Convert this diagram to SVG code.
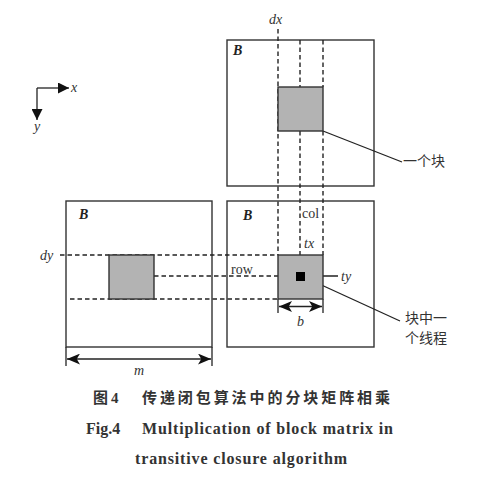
<svg xmlns="http://www.w3.org/2000/svg" width="484" height="481" viewBox="0 0 484 481">
<defs>
<style>
.box{fill:#fff;stroke:#333;stroke-width:1.4}
.blk{fill:#b3b3b3;stroke:#333;stroke-width:1.4}
.dash{fill:none;stroke:#222;stroke-width:1.4;stroke-dasharray:4.5,3}
.ln{fill:none;stroke:#222;stroke-width:1.3}
.it{font-family:"Liberation Serif",serif;font-style:italic;font-size:14px;fill:#333}
.rm{font-family:"Liberation Serif",serif;font-size:14px;fill:#333}
.bb{font-family:"Liberation Serif",serif;font-style:italic;font-weight:bold;font-size:14px;fill:#222}
.cjk{font-family:"Noto Sans CJK SC",sans-serif;font-size:14px;fill:#333}
.cap{font-family:"Noto Sans CJK SC",sans-serif;font-weight:bold;font-size:15px;fill:#333}
.capE{font-family:"Liberation Serif",serif;font-weight:bold;font-size:16px;fill:#333}
</style>
<marker id="ah" viewBox="0 0 10 10" refX="10" refY="5" markerWidth="11" markerHeight="11" markerUnits="userSpaceOnUse" orient="auto-start-reverse">
<path d="M0,0 L10,5 L0,10 z" fill="#111"/>
</marker>
<marker id="ah2" viewBox="0 0 12 10" refX="12" refY="5" markerWidth="13" markerHeight="11" markerUnits="userSpaceOnUse" orient="auto-start-reverse">
<path d="M0,0 L12,5 L0,10 L3,5 z" fill="#111"/>
</marker>
</defs>

<g id="axes">
<line class="ln" x1="37" y1="88" x2="69" y2="88" marker-end="url(#ah)"/>
<line class="ln" x1="37" y1="88" x2="37" y2="120" marker-end="url(#ah)"/>
<text class="it" x="71" y="92">x</text>
<text class="it" x="34" y="131">y</text>
</g>

<g id="boxTop">
<rect class="box" x="227" y="40" width="147" height="146"/>
<text class="bb" x="233" y="55">B</text>
</g>
<g id="boxLeft">
<rect class="box" x="66" y="201" width="146" height="146"/>
<text class="bb" x="79" y="219">B</text>
</g>
<g id="boxRight">
<rect class="box" x="227" y="201" width="147" height="146"/>
<text class="bb" x="243" y="220">B</text>
</g>

<g id="connectors">
<line class="dash" x1="278" y1="29" x2="278" y2="255"/>
<line class="dash" x1="300" y1="40" x2="300" y2="87"/>
<line class="dash" x1="300" y1="131" x2="300" y2="255"/>
<line class="dash" x1="323" y1="40" x2="323" y2="87"/>
<line class="dash" x1="323" y1="131" x2="323" y2="255"/>
<line class="dash" x1="60" y1="255" x2="278" y2="255"/>
<line class="dash" x1="154" y1="276" x2="278" y2="276"/>
<line class="dash" x1="70" y1="299" x2="278" y2="299"/>
<line class="ln" x1="323" y1="131" x2="402" y2="162"/>
<line class="ln" x1="304" y1="276" x2="338" y2="276"/>
<line class="ln" x1="304" y1="277" x2="400" y2="321"/>
<line class="ln" x1="278" y1="299" x2="278" y2="313"/>
<line class="ln" x1="323" y1="299" x2="323" y2="313"/>
<line class="ln" x1="279" y1="306.5" x2="322" y2="306.5" marker-start="url(#ah2)" marker-end="url(#ah2)"/>
<line class="ln" x1="66" y1="347" x2="66" y2="366"/>
<line class="ln" x1="212" y1="347" x2="212" y2="366"/>
<line class="ln" x1="67" y1="359" x2="211" y2="359" marker-start="url(#ah2)" marker-end="url(#ah2)"/>
</g>

<g id="blockTop">
<rect class="blk" x="278" y="87" width="45" height="44"/>
</g>
<g id="blockLeft">
<rect class="blk" x="109" y="255" width="45" height="44"/>
</g>
<g id="blockRight">
<rect class="blk" x="278" y="255" width="45" height="44"/>
<rect x="296" y="272" width="9" height="9" fill="#000"/>
</g>

<g id="labels">
<text class="it" x="269" y="24">dx</text>
<text class="it" x="40" y="260">dy</text>
<text class="rm" x="302" y="218">col</text>
<text class="it" x="304" y="248">tx</text>
<text class="rm" x="231" y="274">row</text>
<text class="it" x="341" y="281">ty</text>
<text class="it" x="297" y="326">b</text>
<text class="it" x="134" y="375">m</text>
<text class="cjk" x="403" y="166">一个块</text>
<text class="cjk" x="405" y="323">块中一</text>
<text class="cjk" x="405" y="343">个线程</text>
</g>

<g id="caption">
<text class="cap" x="93" y="403">图<tspan font-family="Liberation Serif,serif" dx="3">4</tspan></text>
<text class="cap" x="142" y="403" textLength="248" lengthAdjust="spacing">传递闭包算法中的分块矩阵相乘</text>
<text class="capE" x="86" y="434">Fig.4</text>
<text class="capE" x="142" y="434" textLength="251" lengthAdjust="spacing">Multiplication of block matrix in</text>
<text class="capE" x="135" y="464" textLength="212" lengthAdjust="spacing">transitive closure algorithm</text>
</g>
</svg>
